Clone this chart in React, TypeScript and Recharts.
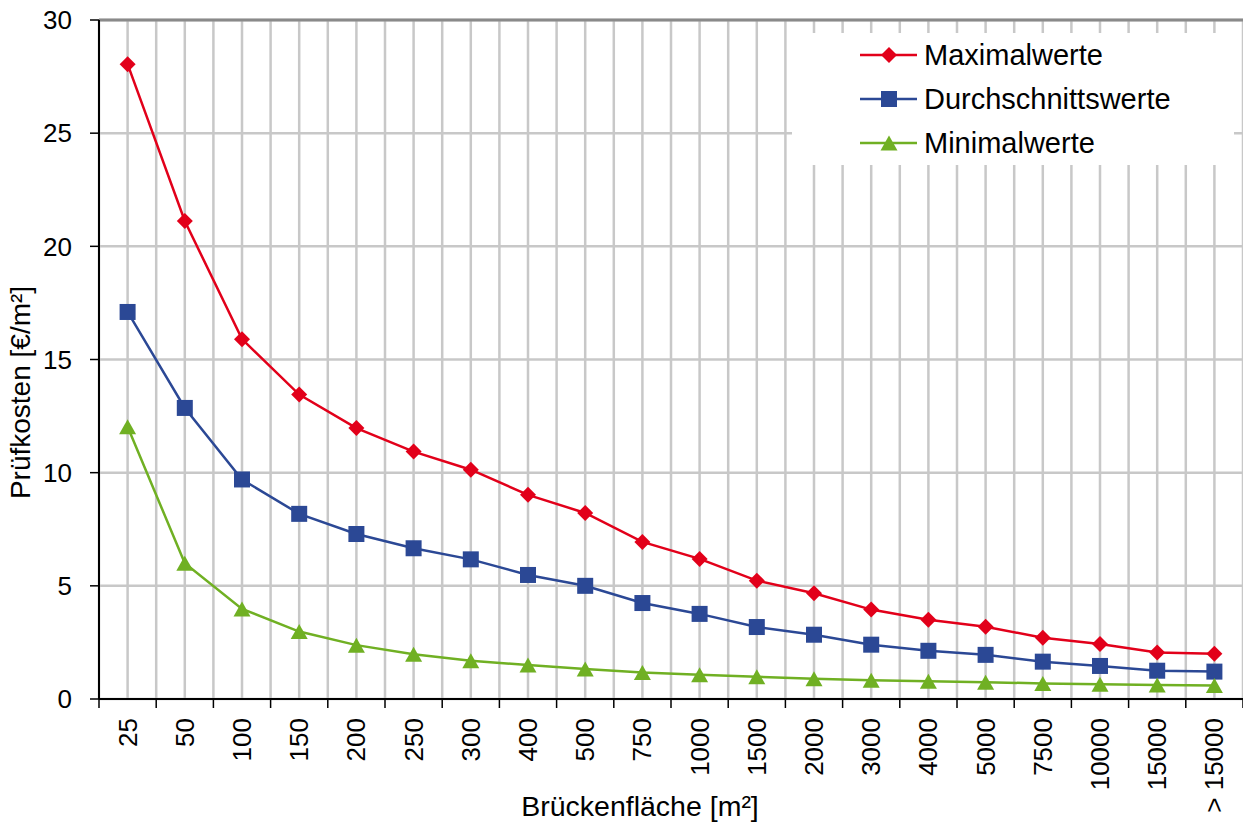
import React from 'react';
import { LineChart, Line, XAxis, YAxis, CartesianGrid, ReferenceLine, Legend } from 'recharts';

const W = 1243;
const H = 828;
const FONT = '"Liberation Sans", Arial, sans-serif';

const categories = ['25', '50', '100', '150', '200', '250', '300', '400', '500', '750', '1000', '1500', '2000', '3000', '4000', '5000', '7500', '10000', '15000', '> 15000'];
const maxValues = [28.05, 21.12, 15.9, 13.45, 11.97, 10.93, 10.13, 9.02, 8.22, 6.94, 6.19, 5.23, 4.67, 3.95, 3.5, 3.19, 2.71, 2.43, 2.05, 2.0];
const avgValues = [17.1, 12.86, 9.7, 8.18, 7.29, 6.66, 6.17, 5.48, 5.0, 4.24, 3.76, 3.18, 2.84, 2.4, 2.13, 1.95, 1.65, 1.46, 1.25, 1.21];
const minValues = [12.03, 6.0, 3.98, 2.98, 2.38, 1.98, 1.69, 1.5, 1.33, 1.17, 1.07, 0.98, 0.9, 0.83, 0.78, 0.74, 0.69, 0.65, 0.62, 0.6];
const yTicks = [0, 5, 10, 15, 20, 25, 30];

// category centres sit on half steps, boundaries on whole steps
const rows = categories.map((c, i) => ({
  pos: i + 0.5,
  label: c,
  max: maxValues[i],
  avg: avgValues[i],
  min: minValues[i],
}));
const gridTicks = Array.from({ length: categories.length * 2 + 1 }, (_, i) => i / 2);

type Shape = 'diamond' | 'square' | 'triangle';

const series: { key: string; name: string; color: string; shape: Shape }[] = [
  { key: 'max', name: 'Maximalwerte', color: '#e2001a', shape: 'diamond' },
  { key: 'avg', name: 'Durchschnittswerte', color: '#2b4895', shape: 'square' },
  { key: 'min', name: 'Minimalwerte', color: '#70b023', shape: 'triangle' },
];

function Marker({ shape, cx, cy, color }: { shape: Shape; cx: number; cy: number; color: string }) {
  if (shape === 'diamond') {
    const r = 8;
    return <polygon points={`${cx},${cy - r} ${cx + r},${cy} ${cx},${cy + r} ${cx - r},${cy}`} fill={color} />;
  }
  if (shape === 'square') {
    const r = 8;
    return <rect x={cx - r} y={cy - r} width={r * 2} height={r * 2} fill={color} />;
  }
  const w = 8.5;
  const h = 7.5;
  return <polygon points={`${cx},${cy - h} ${cx + w},${cy + h} ${cx - w},${cy + h}`} fill={color} />;
}

const renderDot = (shape: Shape, color: string) => (p: any) => (
  <Marker key={`${shape}-${p.index}`} shape={shape} cx={p.cx} cy={p.cy} color={color} />
);

function CategoryTick({ x, y, payload }: any) {
  const v = payload.value as number;
  if (Number.isInteger(v)) {
    return <line x1={x} y1={y} x2={x} y2={y + 9} stroke="#000" strokeWidth={1.5} />;
  }
  const label = categories[Math.floor(v)];
  return (
    <g transform={`translate(${x},${y})`}>
      <text transform="rotate(-90)" x={-19} y={9} textAnchor="end" fontSize={26} fontFamily={FONT} fill="#000">
        {label}
      </text>
    </g>
  );
}

function LegendBox({ payload }: any) {
  const entries = payload || [];
  return (
    <div style={{ background: '#fff', width: 442, height: 132, paddingLeft: 68, boxSizing: 'border-box', fontFamily: FONT }}>
      {series
        .filter(s => entries.some((e: any) => e.dataKey === s.key))
        .map(s => (
          <div key={s.key} style={{ display: 'flex', alignItems: 'center', height: 44 }}>
            <svg width={58} height={20}>
              <line x1={0} y1={10} x2={57} y2={10} stroke={s.color} strokeWidth={2.5} />
              <Marker shape={s.shape} cx={29} cy={10} color={s.color} />
            </svg>
            <span style={{ marginLeft: 6, fontSize: 29, color: '#000', lineHeight: '44px' }}>{s.name}</span>
          </div>
        ))}
    </div>
  );
}

export default function App() {
  return (
    <div style={{ position: 'absolute', left: 0, top: 0, width: W, height: H, background: '#fff' }}>
      <LineChart width={W} height={H} data={rows} margin={{ top: 20, right: 0, left: 0, bottom: 0 }}>
        <CartesianGrid stroke="#c8c8c8" strokeWidth={2.5} />
        <XAxis
          type="number"
          dataKey="pos"
          domain={[0, categories.length]}
          ticks={gridTicks}
          interval={0}
          tickSize={0}
          tickMargin={0}
          tickLine={false}
          axisLine={{ stroke: '#000', strokeWidth: 2 }}
          tick={<CategoryTick />}
          height={129}
          label={{
            content: ({ viewBox }: any) => (
              <text x={viewBox.x + viewBox.width / 2 - 31} y={viewBox.y + 117} textAnchor="middle" fontSize={28.5} fontFamily={FONT} fill="#000">
                Brückenfläche [m²]
              </text>
            ),
          }}
        />
        <YAxis
          domain={[0, 30]}
          ticks={yTicks}
          interval={0}
          width={99}
          tickSize={9}
          tickMargin={18}
          axisLine={{ stroke: '#000', strokeWidth: 2 }}
          tickLine={{ stroke: '#000', strokeWidth: 1.5 }}
          tick={{ fontSize: 26, fill: '#000', fontFamily: FONT }}
          label={{
            content: ({ viewBox }: any) => {
              const cx = 30;
              const cy = viewBox.y + viewBox.height / 2 + 33;
              return (
                <text transform={`translate(${cx},${cy}) rotate(-90)`} textAnchor="middle" fontSize={28} fontFamily={FONT} fill="#000">
                  Prüfkosten [€/m²]
                </text>
              );
            },
          }}
        />
        <ReferenceLine y={30} stroke="#8a8a8a" strokeWidth={3} />
        {series.map(s => (
          <Line
            key={s.key}
            type="linear"
            dataKey={s.key}
            name={s.name}
            stroke={s.color}
            strokeWidth={2.5}
            dot={renderDot(s.shape, s.color)}
            activeDot={false}
            isAnimationActive={false}
          />
        ))}
        <Legend
          layout="vertical"
          align="center"
          verticalAlign="middle"
          content={<LegendBox />}
          wrapperStyle={{ left: 792, top: 33, width: 442, height: 132 }}
        />
      </LineChart>
    </div>
  );
}
